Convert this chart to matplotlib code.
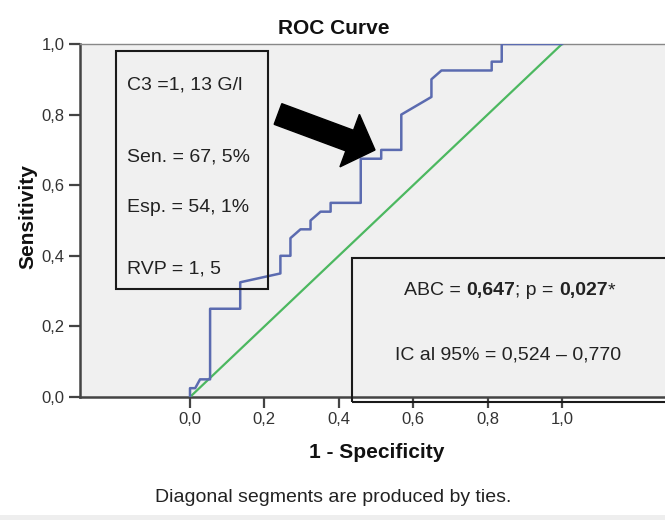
import matplotlib as mpl
mpl.use("Agg")
import matplotlib.pyplot as plt
from matplotlib.patches import Rectangle, FancyArrow

# ROC points (1 - specificity, sensitivity)
fpr = [0.0, 0.0, 0.014, 0.027, 0.054, 0.054, 0.135, 0.135, 0.243, 0.243,
       0.270, 0.270, 0.297, 0.324, 0.324, 0.351, 0.378, 0.378, 0.459, 0.459,
       0.514, 0.514, 0.568, 0.568, 0.649, 0.649, 0.676, 0.811, 0.811, 0.838,
       0.838, 1.0]
tpr = [0.0, 0.025, 0.025, 0.05, 0.05, 0.25, 0.25, 0.325, 0.35, 0.40,
       0.40, 0.45, 0.475, 0.475, 0.50, 0.525, 0.525, 0.55, 0.55, 0.675,
       0.675, 0.70, 0.70, 0.80, 0.85, 0.90, 0.925, 0.925, 0.95, 0.95,
       1.0, 1.0]
ref_x = [0.0, 1.0]
ref_y = [0.0, 1.0]
ticks = [0.0, 0.2, 0.4, 0.6, 0.8, 1.0]
tick_labels = ["0,0", "0,2", "0,4", "0,6", "0,8", "1,0"]

left_box_lines = ["C3 =1, 13 G/l", "Sen. = 67, 5%", "Esp. = 54, 1%", "RVP = 1, 5"]
abc_pieces = [("ABC = ", "normal"), ("0,647", "bold"), ("; p = ", "normal"),
              ("0,027", "bold"), ("*", "normal")]
ic_line = "IC al 95% = 0,524 \u2013 0,770"

W, H = 665, 520
plt.rcParams["font.family"] = ["Liberation Sans", "DejaVu Sans"]
box_fs = 14

fig = plt.figure(figsize=(W / 100, H / 100), dpi=100)
fig.patch.set_facecolor("white")


def fx(px):
    return px / W


def fy(py):
    return 1 - py / H


ax = fig.add_axes([fx(80), fy(397), fx(665 - 80), (397 - 44) / H])
ax.set_facecolor("#f0f0f0")
ax.plot(ref_x, ref_y, color="#4cb860", lw=1.6, zorder=3)
ax.plot(fpr, tpr, color="#5b6bb0", lw=1.8, zorder=4)
ax.set_xlim((80 - 190) / 372, (665 - 190) / 372)
ax.set_ylim(0, 1)
ax.set_xticks(ticks)
ax.set_xticklabels(tick_labels)
ax.set_yticks(ticks)
ax.set_yticklabels(tick_labels)
ax.tick_params(length=8, width=1.6, color="#444444", labelsize=12,
               labelcolor="#333333", pad=3)
for side in ["left", "bottom"]:
    ax.spines[side].set_color("#444444")
    ax.spines[side].set_linewidth(1.8)
ax.spines["top"].set_color("#888888")
ax.spines["top"].set_linewidth(1.0)
ax.spines["right"].set_visible(False)

fig.text(fx(334), fy(28), "ROC Curve", ha="center", va="center",
         fontsize=15, fontweight="bold", color="#111111")
fig.text(fx(377), fy(452), "1 - Specificity", ha="center", va="center",
         fontsize=15, fontweight="bold", color="#111111")
fig.text(fx(28), fy(217), "Sensitivity", ha="center", va="center",
         rotation=90, fontsize=15, fontweight="bold", color="#111111")
fig.text(fx(333), fy(498), "Diagonal segments are produced by ties.",
         ha="center", va="center", fontsize=14, color="#222222")

# text boxes
fig.add_artist(Rectangle((fx(116), fy(289)), fx(268 - 116), (289 - 51) / H,
                         transform=fig.transFigure, fill=False,
                         edgecolor="#1a1a1a", lw=1.5, zorder=5))
fig.add_artist(Rectangle((fx(352), fy(402)), fx(720 - 352), (402 - 258) / H,
                         transform=fig.transFigure, fill=False,
                         edgecolor="#1a1a1a", lw=1.5, zorder=5))

for line, base in zip(left_box_lines, [90, 161, 212, 274]):
    fig.text(fx(127), fy(base), line, ha="left", va="baseline",
             fontsize=box_fs, color="#222222")

prev = None
for piece, weight in abc_pieces:
    if prev is None:
        prev = fig.text(fx(404), fy(295), piece, ha="left", va="baseline",
                        fontsize=box_fs, fontweight=weight, color="#222222")
    else:
        prev = fig.add_artist(plt.Annotation(
            piece, xy=(1, 0), xycoords=prev, ha="left", va="bottom",
            fontsize=box_fs, fontweight=weight, color="#222222"))
fig.text(fx(508), fy(359), ic_line, ha="center", va="baseline",
         fontsize=box_fs, color="#222222")

# black arrow pointing at the cut-off
fig.add_artist(FancyArrow(2.78, (H - 114) / 100, 0.97, -0.36, width=0.22,
                          head_width=0.56, head_length=0.27,
                          length_includes_head=True, color="black",
                          transform=fig.dpi_scale_trans, zorder=6))

fig.add_artist(Rectangle((0, 0), 1, 5 / H, transform=fig.transFigure,
                         facecolor="#eeeeee", edgecolor="none"))

fig.savefig("out.png", dpi=100)
